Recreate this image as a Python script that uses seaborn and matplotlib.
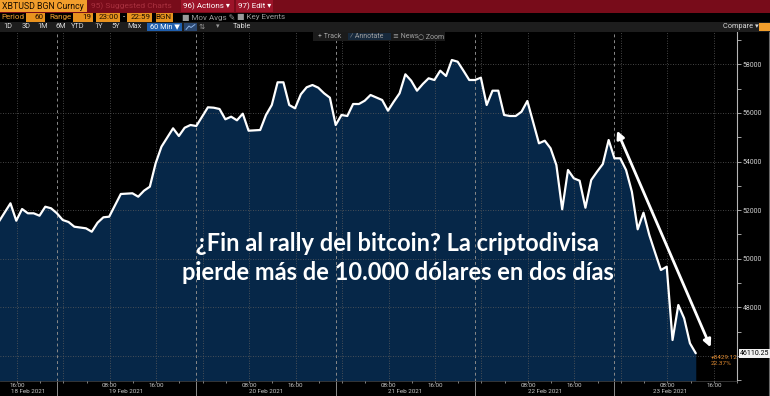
import matplotlib
matplotlib.use("Agg")
import matplotlib.pyplot as plt
import matplotlib.transforms as mtransforms
from matplotlib.patches import Rectangle
from matplotlib.lines import Line2D
import pandas as pd
import seaborn as sns

# ---------------- data (hours since 19 Feb 2021 00:00, XBTUSD price) ----------------
hours = [-10, -8, -7, -6, -5, -4, -3, -2, -1, 0, 1, 2, 3, 5, 6, 7, 8, 9, 11, 13, 14, 15, 16, 17,
         18, 20, 21, 22, 23, 24, 25, 26, 27, 28, 29, 30, 31, 32, 33, 35, 36, 37, 38, 39, 40, 41,
         42, 43, 44, 45, 46, 47, 48, 49, 50, 51, 52, 53, 54, 56, 57, 58, 59, 60, 61, 62, 63, 64,
         65, 66, 67, 68, 69, 70, 71, 72, 73, 74, 75, 76, 77, 78, 79, 80, 81, 83, 84, 85, 86, 87,
         88, 89, 90, 91, 92, 93, 94, 95, 96, 97, 98, 99, 100, 101, 102, 103, 104, 105, 106, 107,
         108, 109, 110]
price = [51523, 52280, 51564, 52046, 51869, 51869, 51770, 52140, 52074, 51869, 51593, 51511,
         51317, 51251, 51111, 51482, 51704, 51729, 52663, 52692, 52552, 52799, 52963, 53926,
         54609, 55366, 55050, 55390, 55502, 55461, 55844, 56231, 56214, 56161, 55737, 55844,
         55696, 55967, 55268, 55296, 55914, 56325, 57259, 57259, 56325, 56189, 56765, 57054,
         57148, 57037, 56807, 56626, 55502, 55914, 55873, 56366, 56366, 56502, 56737, 56531,
         56091, 56461, 56807, 57588, 57325, 56914, 57189, 57424, 57354, 57737, 57519, 58177,
         58107, 57737, 57354, 57354, 57449, 56325, 56914, 56914, 55914, 55873, 55873, 56049,
         56490, 54749, 54856, 54543, 53856, 52033, 53650, 53309, 53210, 52099, 53239, 53580,
         53897, 54885, 54132, 54132, 53650, 52757, 51210, 51893, 50976, 50247, 49535, 49671,
         46655, 48095, 47548, 46519, 46110]

y_gridvals = [46000, 48000, 50000, 52000, 54000, 56000, 58000]
y_labels = ["", "48000", "50000", "52000", "54000", "56000", "58000"]
y_minor = [45000, 47000, 49000, 51000, 53000, 55000, 57000, 59000]

time_grid = [-8, 0, 8, 16, 24, 32, 40, 48, 56, 64, 72, 80, 88, 96, 104, 112]
time_labels = ["16:00", "", "08:00", "16:00", "", "08:00", "16:00", "", "08:00", "16:00", "",
               "08:00", "16:00", "", "08:00", "16:00"]
day_starts = [0, 24, 48, 72, 96]
day_names = ["18 Feb 2021", "19 Feb 2021", "20 Feb 2021", "21 Feb 2021", "22 Feb 2021", "23 Feb 2021"]
day_label_pos = [-4.9, 12, 36, 60, 84, 105.5]

last_price = "46110.25"
change_abs = "+8429.12"
change_pct = "22.37%"
title_lines = ["¿Fin al rally del bitcoin? La criptodivisa",
               "pierde más de 10.000 dólares en dos días"]
arrow_start = (96.45, 55268)
arrow_end = (112.56, 46354)

# ---------------- style ----------------
W, H = 770, 396
sns.set_theme(style="dark")
plt.rcParams['font.family'] = ['Roboto', 'DejaVu Sans']
plt.rcParams['axes.facecolor'] = 'black'
plt.rcParams['figure.facecolor'] = 'black'

fig = plt.figure(figsize=(W / 100, H / 100), dpi=100, facecolor='black')
AX_TOP, AX_BOT, AX_RIGHT = 32, 381, 737
ax = fig.add_axes([0, (H - AX_BOT) / H, AX_RIGHT / W, (AX_BOT - AX_TOP) / H])
ax.set_facecolor('black')

TSHIFT = 1.1
XMIN, XMAX = -9.8, 114.75
YMIN, YMAX = 44968, 59329

df = pd.DataFrame({"hours": hours, "price": price})
ax.fill_between(df["hours"], df["price"], YMIN, color='#062748', lw=0, zorder=1)
sns.lineplot(data=df, x="hours", y="price", ax=ax, color='white', linewidth=1.6, zorder=3)

ax.set_xlim(XMIN, XMAX)
ax.set_ylim(YMIN, YMAX)
ax.set_xlabel("")
ax.set_ylabel("")

# x ticks / grid
ax.set_xticks([t + TSHIFT for t in time_grid])
ax.set_xticklabels(time_labels)
ax.set_xticks([t + TSHIFT + 4 for t in time_grid], minor=True)
ax.tick_params(axis='x', which='both', colors='#9a9a9a', labelcolor='#c8c8c8', labelsize=4.5,
               length=1.2, width=0.6, pad=0.1, direction='out', bottom=True)
# y ticks right
ax.yaxis.tick_right()
ax.set_yticks(y_gridvals)
ax.set_yticklabels(y_labels)
ax.set_yticks(y_minor, minor=True)
ax.tick_params(axis='y', which='both', colors='#bdbdbd', labelcolor='#d0d0d0', labelsize=5,
               length=3, width=0.6, pad=1, right=True, left=False)
ax.grid(True, which='major', color='#5c5c5c', ls=(0, (1, 2)), lw=0.6)
ax.grid(False, which='minor')
ax.set_axisbelow(False)
for ln in ax.get_xgridlines() + ax.get_ygridlines():
    ln.set_zorder(2)

for s in ['top', 'left']:
    ax.spines[s].set_visible(False)
ax.spines['right'].set_color('#b5b5b5')
ax.spines['right'].set_linewidth(0.8)
ax.spines['bottom'].set_color('#3a3a3a')
ax.spines['bottom'].set_linewidth(0.6)

# day separators
trans = mtransforms.blended_transform_factory(ax.transData, ax.transAxes)
for d in day_starts:
    ax.plot([d, d], [0, 1], transform=trans, color='#8a8a8a', lw=0.7, ls=(0, (3, 3)), zorder=2)
    ax.plot([d, d], [-0.045, 0], transform=trans, color='#8a8a8a', lw=0.7, clip_on=False)
for pos, name in zip(day_label_pos, day_names):
    ax.text(pos, -10.8 / (AX_BOT - AX_TOP), name, transform=trans, ha='center', va='center',
            fontsize=4.5, color='#c8c8c8')

# arrow
ax.annotate("", xy=arrow_end, xytext=arrow_start,
            arrowprops=dict(arrowstyle='<|-|>', color='white', lw=2.0, mutation_scale=11,
                            shrinkA=0, shrinkB=0), zorder=5)

# ---------------- figure-level helpers ----------------
def FX(x):
    return x / W


def FY(y):
    return 1 - y / H


def rect(x, y, w, h, c, z=3):
    fig.add_artist(Rectangle((FX(x), FY(y + h)), w / W, h / H, transform=fig.transFigure,
                             facecolor=c, edgecolor='none', zorder=z))


def txt(x, y, s, c, size, ha='left', z=4, **kw):
    fig.text(FX(x), FY(y), s, color=c, fontsize=size, ha=ha, va='center', zorder=z, **kw)


# title overlay
for i, line in enumerate(title_lines):
    fig.text(FX(398), FY(251 + 29 * i), line, ha='center', va='baseline', color='white',
             fontsize=17, fontweight='bold', family=['Lato', 'DejaVu Sans'], zorder=6)

# last price box and change
fig.text(FX(740), FY(353.5), last_price, ha='left', va='center', fontsize=5, color='black',
         zorder=6, bbox=dict(boxstyle='square,pad=0.15', fc='#f2f2f2', ec='none'))
txt(711, 357, change_abs, '#e08a30', 4.6, z=6)
txt(711, 363.5, change_pct, '#e08a30', 4.6, z=6)

# right border line
fig.add_artist(Line2D([FX(769), FX(769)], [FY(32), FY(396)], transform=fig.transFigure,
                      color='#6a6a6a', lw=0.8, zorder=3))

# row 1
rect(0, 0, W, 12.5, '#780c1a')
rect(0, 0.5, 87, 11.5, '#f29e2c')
txt(1.5, 6.3, "XBTUSD BGN Curncy", '#1a0c00', 6.3)
txt(91, 6.3, "95) Suggested Charts", '#a8303e', 6.0)
rect(181, 0.5, 53, 11.5, '#9c1429')
txt(183, 6.3, "96) Actions ▾", 'white', 5.8)
rect(236, 0.5, 37, 11.5, '#9c1429')
txt(238, 6.3, "97) Edit ▾", 'white', 5.8)

# row 2
OR = '#f0a030'
txt(1, 17.3, "Period", OR, 5.8)
for (bx, bw, s) in [(26, 19, "60"), (73, 20, "19"), (96, 24, "23:00"), (127, 25, "22:59"),
                    (156, 17, "BGN")]:
    rect(bx, 13.2, bw, 8.3, '#e8921e')
    txt(bx + bw - 1.5, 17.3, s, '#1a0c00', 5.8, ha='right')
txt(49, 17.3, "Range", OR, 5.8)
txt(123.5, 17.3, "-", 'white', 5.8, ha='center')
txt(182, 17.3, "■ Mov Avgs ✎", '#9a9a9a', 5.8)
txt(237, 17.3, "■ Key Events", '#9a9a9a', 5.8)

# row 3
rect(0, 22.3, W, 9.4, '#1d1d1d')
for (cx, s) in [(8, "1D"), (26, "3D"), (43, "1M"), (61, "6M"), (78, "YTD"), (99, "1Y"),
                (116, "5Y"), (135, "Max")]:
    txt(cx, 27, s, '#d8d8d8', 5.3, ha='center')
rect(147, 22.8, 35, 8.4, '#1f5fae')
txt(164.5, 27, "60 Min ▼", 'white', 5.3, ha='center')
rect(184, 22.8, 13, 8.4, '#2a4770')
fig.add_artist(Line2D([FX(186), FX(189), FX(191), FX(195)], [FY(29.5), FY(26), FY(27.5), FY(24.5)],
                      transform=fig.transFigure, color='#8fb4e6', lw=0.7, zorder=4))
txt(202, 27, "⇅", '#9a9a9a', 5.3, ha='center')
txt(218, 27, "▾", '#9a9a9a', 5.0, ha='center')
txt(242, 27, "Table", '#d8d8d8', 5.3, ha='center')
txt(741, 27, "Compare ▾", '#d8d8d8', 5.3, ha='center')
rect(759, 23, 11, 8, '#f29e2c')

# row 4 (inside plot)
rect(313, 32, 132, 8.5, '#1b1b1b', z=5)
rect(348, 32.5, 43, 7.5, '#17293c', z=5)
txt(318, 36.5, "+ Track", '#a0a0a0', 5.0, z=6)
txt(350, 36.5, "⁄ Annotate", '#a0a0a0', 5.0, z=6)
txt(393, 36.5, "≡ News", '#a0a0a0', 5.0, z=6)
txt(418, 36.5, "○ Zoom", '#a0a0a0', 5.0, z=6)

fig.savefig("out.png", dpi=100, facecolor='black')
